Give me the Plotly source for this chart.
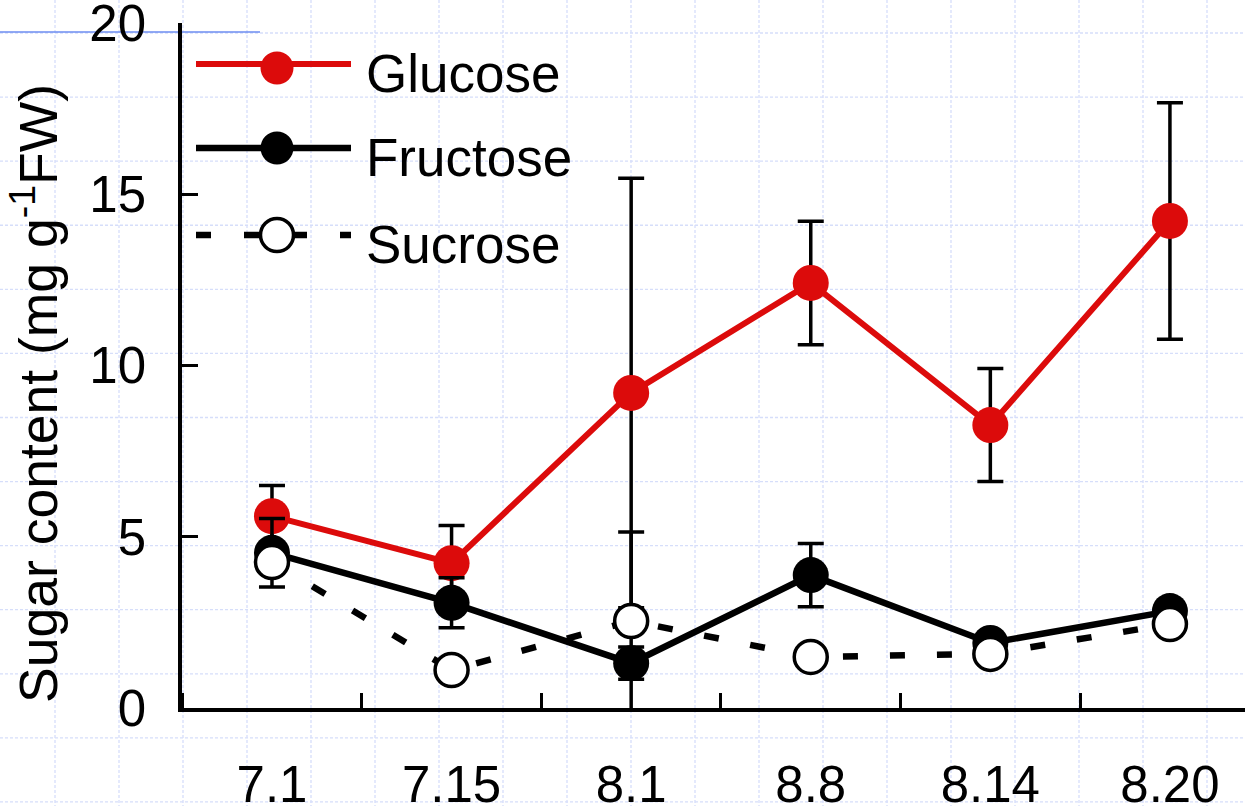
import plotly.graph_objects as go

# ---------------- data ----------------
dates = ["7.1", "7.15", "8.1", "8.8", "8.14", "8.20"]
glucose = [5.6, 4.23, 9.2, 12.41, 8.26, 14.22]
glucose_err = [0.9, 1.1, 6.27, 1.8, 1.65, 3.45]
fructose = [4.53, 3.07, 1.31, 3.88, 1.9, 2.83]
fructose_err = [1.0, 0.73, 0.47, 0.92, 0.2, 0.2]
sucrose = [4.26, 1.11, 2.54, 1.49, 1.58, 2.45]
sucrose_err = [0.2, 0.2, 2.6, 0.2, 0.2, 0.2]
y_ticks = [0, 5, 10, 15, 20]

RED = "#dc0b0b"
FONT = "Liberation Sans, Arial, sans-serif"

W, H = 1245, 806
ML, MR, MT, MB = 182, 0, 23, 98
PW, PH = W - ML - MR, H - MT - MB


def px(x):
    return (x - ML) / PW


def py(y):
    return (H - MB - y) / PH


xs = list(range(len(dates)))

fig = go.Figure()

fig.add_trace(go.Scatter(
    x=xs, y=glucose, mode="lines+markers", name="Glucose",
    line=dict(color=RED, width=6),
    marker=dict(color=RED, size=36),
    error_y=dict(type="data", array=glucose_err, color="black", thickness=3.5, width=13),
))
fig.add_trace(go.Scatter(
    x=xs, y=fructose, mode="lines+markers", name="Fructose",
    line=dict(color="black", width=6.5),
    marker=dict(color="black", size=36),
    error_y=dict(type="data", array=fructose_err, color="black", thickness=3.5, width=13),
))
fig.add_trace(go.Scatter(
    x=xs, y=sucrose, mode="lines+markers", name="Sucrose",
    line=dict(color="black", width=6.5, dash="15px,32px"),
    marker=dict(color="white", size=33, line=dict(color="black", width=3.5)),
    error_y=dict(type="data", array=sucrose_err, color="black", thickness=3.5, width=13),
))

shapes = []
# background grid (decorative)
for k in range(-1, 20):
    gx = 55 + 64 * k
    if 0 <= gx <= W:
        shapes.append(dict(type="line", xref="paper", yref="paper",
                           x0=px(gx), x1=px(gx), y0=py(0), y1=py(H),
                           line=dict(color="#d6defa", width=1.3, dash="3px,2px"), layer="below"))
for k in range(0, 13):
    gy = 33 + 64.08 * k
    shapes.append(dict(type="line", xref="paper", yref="paper",
                       x0=px(0), x1=px(W), y0=py(gy), y1=py(gy),
                       line=dict(color="#d6defa", width=1.3, dash="3px,2px"), layer="below"))
# blue line top-left
shapes.append(dict(type="line", xref="paper", yref="paper",
                   x0=px(0), x1=px(260), y0=py(32), y1=py(32),
                   line=dict(color="#6c8cf0", width=1.5), layer="below"))

# custom legend
legend_items = [
    ("Glucose", RED, "solid", RED, 64, 68, 6),
    ("Fructose", "black", "solid", "black", 148, 148, 6.5),
    ("Sucrose", "black", "15px,33px", "white", 235, 235, 6.5),
]
annotations = []
for name, lc, dash, fill, ly, my, lw in legend_items:
    shapes.append(dict(type="line", xref="paper", yref="paper",
                       x0=px(196), x1=px(351), y0=py(ly), y1=py(ly),
                       line=dict(color=lc, width=lw, dash=dash)))
    shapes.append(dict(type="circle", xref="paper", yref="paper",
                       xsizemode="pixel", ysizemode="pixel",
                       xanchor=px(277), yanchor=py(my),
                       x0=-16.5, x1=16.5, y0=-16.5, y1=16.5,
                       fillcolor=fill,
                       line=dict(color="black" if fill == "white" else fill, width=3.5 if fill == "white" else 0)))
    annotations.append(dict(text=name, xref="paper", yref="paper",
                            x=px(364), y=py(ly + 9), xanchor="left", yanchor="middle",
                            showarrow=False, font=dict(size=53, color="black", family=FONT)))

annotations.append(dict(text="Sugar content (mg g<sup>-1</sup>FW)", xref="paper", yref="paper",
                        x=px(35), y=py(394), xanchor="center", yanchor="middle", textangle=-90,
                        showarrow=False, font=dict(size=53.5, color="black", family=FONT)))

fig.update_layout(
    width=W, height=H,
    margin=dict(l=ML, r=MR, t=MT, b=MB, autoexpand=False),
    paper_bgcolor="white", plot_bgcolor="rgba(0,0,0,0)",
    showlegend=False,
    shapes=shapes, annotations=annotations,
    font=dict(family=FONT, color="black"),
    xaxis=dict(
        range=[-0.501, 5.418], showgrid=False, zeroline=False, automargin=False,
        showline=True, linecolor="black", linewidth=3.5,
        tickmode="array", tickvals=xs, ticktext=dates, ticks="",
        tickfont=dict(size=51, color="black", family=FONT),
        ticklabelstandoff=29, ticklabeloverflow="allow",
        minor=dict(tickmode="linear", tick0=0.5, dtick=1, ticks="inside",
                   ticklen=15, tickwidth=3, tickcolor="black", showgrid=False),
    ),
    yaxis=dict(
        range=[0, 20.001], showgrid=False, zeroline=False, automargin=False,
        showline=True, linecolor="black", linewidth=3.5,
        tickmode="array", tickvals=y_ticks, ticks="inside", ticklen=16,
        tickwidth=3, tickcolor="black",
        tickfont=dict(size=51, color="black", family=FONT),
        ticklabelstandoff=22, ticklabeloverflow="allow",
    ),
)

fig.write_html("out.html", config={"displayModeBar": False},
               post_script="document.body.style.margin='0';document.body.style.overflow='hidden';")
